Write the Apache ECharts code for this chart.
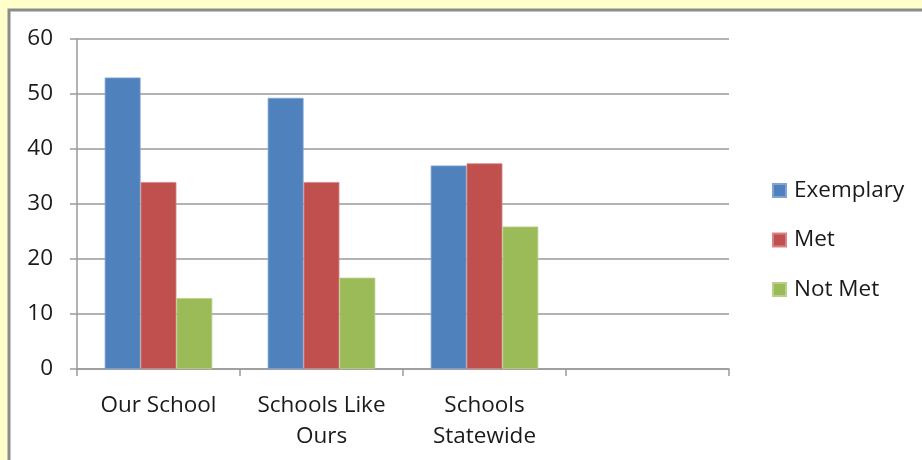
<!DOCTYPE html>
<html>
<head>
<meta charset="utf-8">
<script src="https://cdn.jsdelivr.net/npm/echarts@6/dist/echarts.min.js"></script>
<style>
html,body{margin:0;padding:0;background:#FFFFCC;}
#chart{width:922px;height:460px;}
</style>
</head>
<body>
<div id="chart"></div>
<script>
var categories = ['Our School', 'Schools Like\nOurs', 'Schools\nStatewide', ''];
var exemplary = [53.0, 49.3, 37.0, null];
var met = [34.0, 34.0, 37.4, null];
var notMet = [12.9, 16.6, 25.9, null];
var yTicks = [0, 10, 20, 30, 40, 50, 60];

var chart = echarts.init(document.getElementById('chart'));
var font = "'Open Sans', 'Noto Sans', sans-serif";
chart.setOption({
  backgroundColor: '#FFFFCC',
  animation: false,
  graphic: [{
    type: 'rect', z: -1,
    shape: {x: 9, y: 10, width: 940, height: 480},
    style: {fill: '#FFFFFF', stroke: '#8C8C8C', lineWidth: 3}
  }],
  grid: {left: 77, right: 193, top: 39, bottom: 91},
  legend: {
    orient: 'vertical',
    left: 767, top: 174,
    itemWidth: 13, itemHeight: 13, itemGap: 26.5,
    icon: 'rect',
    textStyle: {fontSize: 22.5, lineHeight: 20, color: '#1a1a1a', fontFamily: font, padding: [0,0,0,3]},
    data: ['Exemplary', 'Met', 'Not Met']
  },
  xAxis: {
    type: 'category',
    data: categories,
    axisLine: {lineStyle: {color: '#9A9A9A', width: 1.5}},
    axisTick: {show: true, length: 7, lineStyle: {color: '#9A9A9A', width: 1.5}},
    axisLabel: {fontSize: 22.5, color: '#1a1a1a', fontFamily: font, margin: 21, lineHeight: 31, interval: 0}
  },
  yAxis: {
    type: 'value',
    min: yTicks[0], max: yTicks[yTicks.length - 1], interval: 10,
    axisLine: {show: true, lineStyle: {color: '#9A9A9A', width: 1.5}},
    axisTick: {show: true, length: 7, lineStyle: {color: '#9A9A9A', width: 1.5}},
    splitLine: {lineStyle: {color: '#9A9A9A', width: 1.5}},
    axisLabel: {fontSize: 22.5, color: '#1a1a1a', fontFamily: font, margin: 24}
  },
  series: [
    {name: 'Exemplary', type: 'bar', data: exemplary, barGap: '0%', barCategoryGap: '34%',
     itemStyle: {color: '#4F81BD', borderColor: '#7FA3D2', borderWidth: 0.8}},
    {name: 'Met', type: 'bar', data: met, barGap: '0%', barCategoryGap: '34%',
     itemStyle: {color: '#C0504D', borderColor: '#D58683', borderWidth: 0.8}},
    {name: 'Not Met', type: 'bar', data: notMet, barGap: '0%', barCategoryGap: '34%',
     itemStyle: {color: '#9BBB59', borderColor: '#B9D088', borderWidth: 0.8}}
  ]
});
</script>
</body>
</html>
